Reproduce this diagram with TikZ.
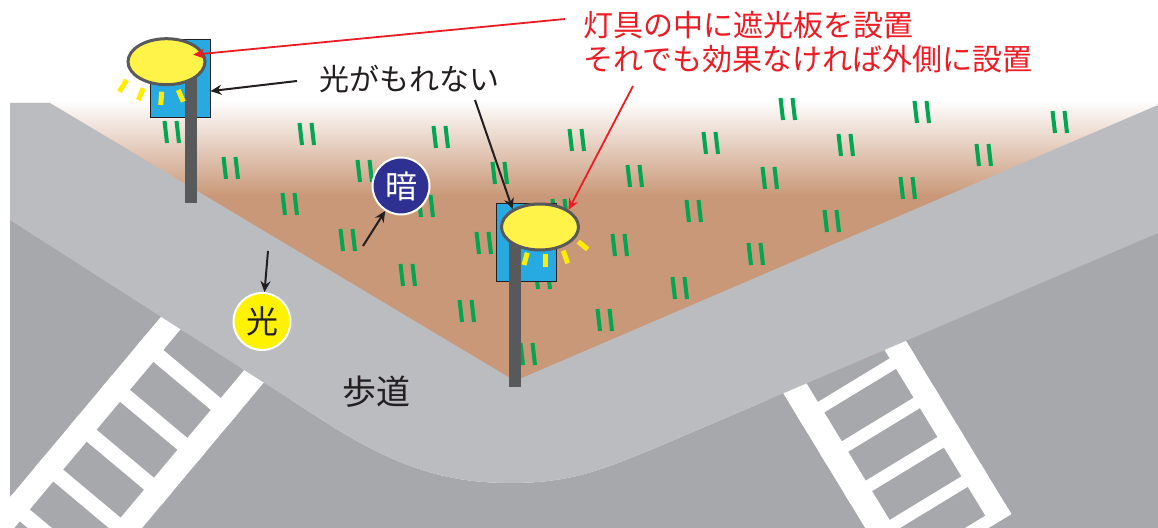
\documentclass[tikz,border=0pt]{standalone}
\usepackage{fontspec}
\newfontfamily\jpfont{Noto Sans CJK JP}
\usepackage{tikz}
\usetikzlibrary{arrows.meta,positioning,calc,shapes.geometric}

\definecolor{soil}{RGB}{201,152,120}
\definecolor{walkgray}{RGB}{187,188,192}
\definecolor{roadgray}{RGB}{167,168,171}
\definecolor{polegray}{RGB}{88,89,91}
\definecolor{shadeblue}{RGB}{39,170,225}
\definecolor{lampyellow}{RGB}{255,242,73}
\definecolor{rayyellow}{RGB}{255,237,0}
\definecolor{grassgreen}{RGB}{0,166,81}
\definecolor{alertred}{RGB}{237,28,36}
\definecolor{ink}{RGB}{35,31,32}
\definecolor{nightblue}{RGB}{46,49,146}
\definecolor{sunyellow}{RGB}{255,242,0}

\tikzset{
  >=Stealth,
  grass/.style={grassgreen, line width=2pt},
  ray/.style={rayyellow, line width=2.5pt},
  zebra/.style={white},
  shadebox/.style={rectangle, draw=ink, line width=0.5pt, fill=shadeblue, minimum width=30pt, minimum height=39pt, inner sep=0pt},
  lamphead/.style={ellipse, draw=polegray, line width=1.5pt, fill=lampyellow, minimum width=38.5pt, minimum height=23pt, inner sep=0pt},
  badge/.style={circle, draw=white, line width=1pt, minimum size=28.5pt, inner sep=0pt, font=\jpfont\fontsize{16pt}{16pt}\selectfont},
  note/.style={font=\jpfont\fontsize{15pt}{18pt}\selectfont, text=ink, inner sep=0pt},
  warn/.style={font=\jpfont\fontsize{15pt}{17pt}\selectfont, text=alertred, align=left, inner sep=0pt},
  inkarrow/.style={-{Stealth[length=5.5pt,width=5pt]}, ink, line width=1pt},
  alertarrow/.style={-{Stealth[length=5.5pt,width=5pt]}, alertred, line width=0.9pt}
}

% slanted strip of a crossing, given as (u1,v1) and (u2,v2) in the crossing's own axes
\newcommand{\stripe}[4]{\fill[zebra] (#1,#2) -- (#3,#2) -- (#3,#4) -- (#1,#4) -- cycle;}

\begin{document}
\begin{tikzpicture}[x=0.5pt, y=-0.5pt]
    \useasboundingbox (0,0) rectangle (1158,528);
    \fill[white] (0,0) rectangle (1158,528);

    % Ground behind the walkway, fading out to white at the top
    \fill[top color=white, bottom color=soil] (10,100) rectangle (1158,196);
    \fill[soil] (10,195) rectangle (1158,400);

    % Grass tufts
    \foreach \gx/\gy in {172/132, 231/168, 290/204, 307/134, 365/171, 348/240, 441/137,
        426/206, 408/275, 467/311, 500/173, 577/140, 635/176, 620/245, 484/243, 543/278,
        528/354, 605/320, 680/288, 694/211, 711/143, 770/178, 788/109, 756/254, 846/145,
        832/221, 908/188, 922/112, 984/155, 1060/122, 560/210} {
      \draw[grass] (\gx-7.5,\gy-11) -- (\gx-5,\gy+11);
      \draw[grass] (\gx+4.5,\gy-11) -- (\gx+7,\gy+11);
    }

    % Road
    \fill[roadgray] (10,220) -- (330,425) .. controls (400,469) and (450,483) .. (510,483)
        .. controls (570,483) and (600,471) .. (660,446) -- (1158,233) -- (1158,528) -- (10,528) -- cycle;

    % Crossings
    \begin{scope}
      \clip (10,0) rectangle (1158,528);
      \begin{scope}[shift={(160,318)}, x={(-0.321pt,-0.3835pt)}, y={(0.3835pt,-0.321pt)}]
        \stripe{-40}{0}{330}{23}
        \stripe{-40}{98}{330}{121}
        \foreach \k in {0,...,5} {
          \stripe{22.4+52*\k}{0}{37.8+52*\k}{121}
        }
      \end{scope}
      \begin{scope}[shift={(783.3,393.3)}, x={(0.26pt,-0.4275pt)}, y={(0.4275pt,0.26pt)}]
        \stripe{-40}{0}{220}{25}
        \stripe{-40}{109}{220}{132}
        \foreach \k in {0,...,4} {
          \stripe{25.4+46*\k}{0}{37.6+46*\k}{132}
        }
      \end{scope}
    \end{scope}

    % Walkway
    \fill[walkgray] (10,103) -- (50,103) -- (515,381) -- (1158,105) -- (1158,233) -- (660,446)
        .. controls (600,471) and (570,483) .. (510,483)
        .. controls (450,483) and (400,469) .. (330,425) -- (10,220) -- cycle;

    % Left lamp
    \node[shadebox] (boxA) at (180,78.8) {};
    \fill[polegray] (185,75) rectangle (197,203);
    \draw[ray] (126.7,80) -- (119.3,91.7);
    \draw[ray] (143.3,88.3) -- (138.3,100);
    \draw[ray] (161.7,91.7) -- (160.7,105);
    \draw[ray] (178.3,90) -- (183.3,101.7);
    \node[lamphead] (lampA) at (166.5,61.7) {};

    % Middle lamp
    \node[shadebox] (boxB) at (526,242.8) {};
    \fill[polegray] (509.3,230) rectangle (521,387.3);
    \draw[ray] (527.3,252.7) -- (524,265);
    \draw[ray] (545.7,254) -- (545.7,266.7);
    \draw[ray] (563.3,250.7) -- (567.7,263.3);
    \draw[ray] (578.3,241.7) -- (587.7,249.3);
    \node[lamphead] (lampB) at (540,227) {};

    % Labels
    \node[warn, anchor=west] (advice) at (583,42) {灯具の中に遮光板を設置\\それでも効果なければ外側に設置};
    \node[note] (leak) at (409,79) {光がもれない};
    \node[note, font=\jpfont\fontsize{17pt}{20pt}\selectfont] (walk) at (376,392) {歩道};
    \node[badge, fill=nightblue, text=white] (dark) at (401,186) {暗};
    \node[badge, fill=sunyellow, text=ink] (light) at (262,321.5) {光};

    % Arrow tails
    \coordinate (adviceTailA) at (565,19);
    \coordinate (adviceTailB) at (633,86);
    \coordinate (leakTailA) at (297,81);
    \coordinate (leakTailB) at (475,100);
    \coordinate (darkTail) at (363,246);
    \coordinate (lightTail) at (268,251);

    \draw[alertarrow, shorten >=-5.5pt] (adviceTailA) -- (lampA.12);
    \draw[alertarrow] (adviceTailB) -- (lampB.31);
    \draw[inkarrow] (leakTailA) -- (boxA.-22);
    \draw[inkarrow] (leakTailB) -- (lampB.147);
    \draw[inkarrow] (darkTail) -- (dark);
    \draw[inkarrow] (lightTail) -- (light);
\end{tikzpicture}
\end{document}
